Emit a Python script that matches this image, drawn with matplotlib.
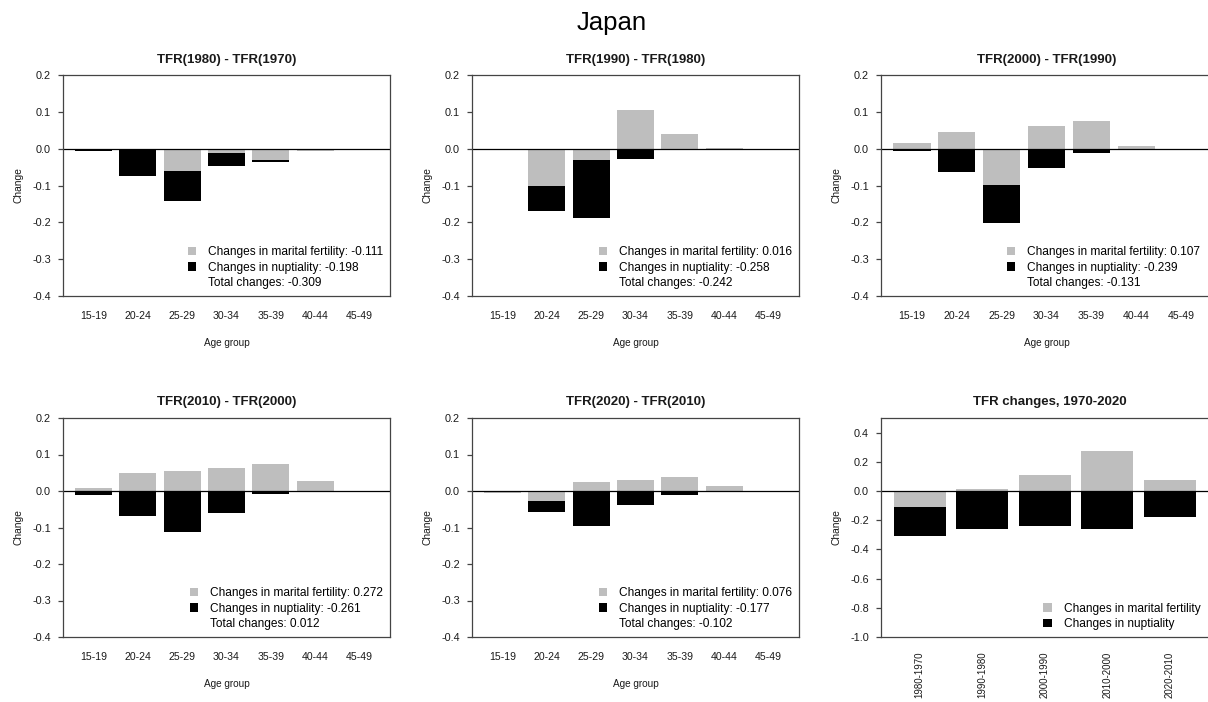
import numpy as np
import matplotlib
matplotlib.use("Agg")
import matplotlib.pyplot as plt
from matplotlib.patches import Patch

plt.rcParams['font.family'] = ['Liberation Sans', 'DejaVu Sans']
plt.rcParams['axes.unicode_minus'] = False

country = "Japan"
age_groups = ['15-19', '20-24', '25-29', '30-34', '35-39', '40-44', '45-49']
periods = ['1980-1970', '1990-1980', '2000-1990', '2010-2000', '2020-2010']
titles = ['TFR(1980) - TFR(1970)', 'TFR(1990) - TFR(1980)', 'TFR(2000) - TFR(1990)',
          'TFR(2010) - TFR(2000)', 'TFR(2020) - TFR(2010)']
age_yticks = [-0.4, -0.3, -0.2, -0.1, 0.0, 0.1, 0.2]
total_yticks = [-1.0, -0.8, -0.6, -0.4, -0.2, 0.0, 0.2, 0.4]

# age-specific contributions to the TFR change, one list per decade
marital_1980 = [-0.001, -0.003, -0.060, -0.012, -0.030, -0.005, 0.0]
nuptial_1980 = [-0.006, -0.070, -0.082, -0.035, -0.005, 0.0, 0.0]
marital_1990 = [0.0, -0.100, -0.031, 0.105, 0.040, 0.002, 0.0]
nuptial_1990 = [-0.003, -0.068, -0.158, -0.027, -0.002, 0.0, 0.0]
marital_2000 = [0.015, 0.046, -0.099, 0.062, 0.075, 0.0084, 0.0]
nuptial_2000 = [-0.007, -0.062, -0.104, -0.053, -0.0126, 0.0, 0.0]
marital_2010 = [0.007, 0.048, 0.054, 0.062, 0.075, 0.0264, 0.0]
nuptial_2010 = [-0.012, -0.069, -0.112, -0.060, -0.0076, 0.0, 0.0]
marital_2020 = [-0.006, -0.027, 0.026, 0.029, 0.039, 0.0146, 0.0]
nuptial_2020 = [0.0, -0.030, -0.095, -0.039, -0.010, -0.0034, 0.0]

marital = [marital_1980, marital_1990, marital_2000, marital_2010, marital_2020]
nuptial = [nuptial_1980, nuptial_1990, nuptial_2000, nuptial_2010, nuptial_2020]

GRAY = '#bebebe'
BLACK = '#000000'
FRAME = '#444444'
TXT = '#1a1a1a'

W, H = 1208, 702
fig = plt.figure(figsize=(W / 100, H / 100), dpi=100)


def rect(left, top, w, h):
    return [left / W, 1 - (top + h) / H, w / W, h / H]


def stacked(ax, x, a, b):
    # gray first from zero, black continues only when it has the same sign
    a = np.asarray(a, float)
    b = np.asarray(b, float)
    bottom_b = np.where(np.sign(a) == np.sign(b), a, 0.0)
    ax.bar(x, a, width=1.0, color=GRAY, edgecolor='none')
    ax.bar(x, b, width=1.0, bottom=bottom_b, color=BLACK, edgecolor='none')
    ax.axhline(0, color='black', lw=0.9)


def style(ax, width_px, yticks):
    for s in ax.spines.values():
        s.set_color(FRAME)
        s.set_linewidth(0.9)
    ax.set_yticks(yticks)
    ax.set_yticklabels([f'{t:.1f}' for t in yticks])
    ax.tick_params(axis='y', direction='out', length=3.6, width=0.9, color=FRAME,
                   labelsize=7.8, labelcolor=TXT, pad=5)
    ax.set_ylabel('Change', fontsize=7.4, color=TXT)
    ax.yaxis.set_label_coords(-44.5 / width_px, 0.5)
    ax.yaxis.label.set_va('center')


def legend(ax, labels, anchor=(1, 0)):
    handles = [Patch(facecolor=GRAY, edgecolor='none'),
               Patch(facecolor=BLACK, edgecolor='none'),
               Patch(facecolor='none', edgecolor='none')][:len(labels)]
    ax.legend(handles, labels, loc='lower right', bbox_to_anchor=anchor, frameon=False,
              fontsize=8.6, handlelength=0.7, handleheight=0.7, handletextpad=1.0,
              labelspacing=0.3, borderpad=0.2, borderaxespad=0.35)


col_left = [63, 472, 881]
col_w = [327, 327, 331]
row_top = [75, 418]
row_h = [221, 219]
x_age = 0.7 + 1.2 * np.arange(len(age_groups))

for k in range(5):
    r, c = divmod(k, 3)
    ax = fig.add_axes(rect(col_left[c], row_top[r], col_w[c], row_h[r]))
    stacked(ax, x_age, marital[k], nuptial[k])
    ax.set_xlim(0.2 - 0.328, 8.4 + 0.328)
    ax.set_ylim(-0.4, 0.2)
    ax.set_xticks(x_age)
    ax.set_xticklabels(age_groups)
    ax.tick_params(axis='x', length=0, labelsize=7.6, labelcolor=TXT, pad=11)
    style(ax, col_w[c], age_yticks)
    ax.set_title(titles[k], fontsize=9.5, fontweight='bold', pad=9, color=TXT)
    ax.set_xlabel('Age group', fontsize=7.2, color=TXT)
    ax.xaxis.set_label_coords(0.5, -0.19)
    ax.xaxis.label.set_va('top')
    m = sum(marital[k])
    n = sum(nuptial[k])
    anchor = (1, 0) if c < 2 else ((1207 - 881) / col_w[c], 0)
    legend(ax, [f'Changes in marital fertility: {m:.3f}',
                f'Changes in nuptiality: {n:.3f}',
                f'Total changes: {m + n:.3f}'], anchor)

# summary panel: decade totals
marital_total = [sum(v) for v in marital]
nuptial_total = [sum(v) for v in nuptial]
x_per = 0.7 + 1.2 * np.arange(len(periods))
ax = fig.add_axes(rect(881, 418, 338, 219))
stacked(ax, x_per, marital_total, nuptial_total)
ax.set_xlim(0.2 - 0.24, 6.2 + 0.24)
ax.set_ylim(-1.0, 0.5)
ax.set_xticks(x_per)
ax.set_xticklabels(periods, rotation=90)
ax.tick_params(axis='x', length=0, labelsize=7.0, labelcolor=TXT, pad=10.5)
style(ax, 338, total_yticks)
ax.set_title('TFR changes, 1970-2020', fontsize=9.5, fontweight='bold', pad=9, color=TXT)
legend(ax, ['Changes in marital fertility', 'Changes in nuptiality'],
       anchor=((1207 - 881) / 338, 0))

fig.text(612 / W, 1 - 30 / H, country, ha='center', va='baseline', fontsize=18.5, color='black')

fig.savefig('out.png', dpi=100, facecolor='white')
